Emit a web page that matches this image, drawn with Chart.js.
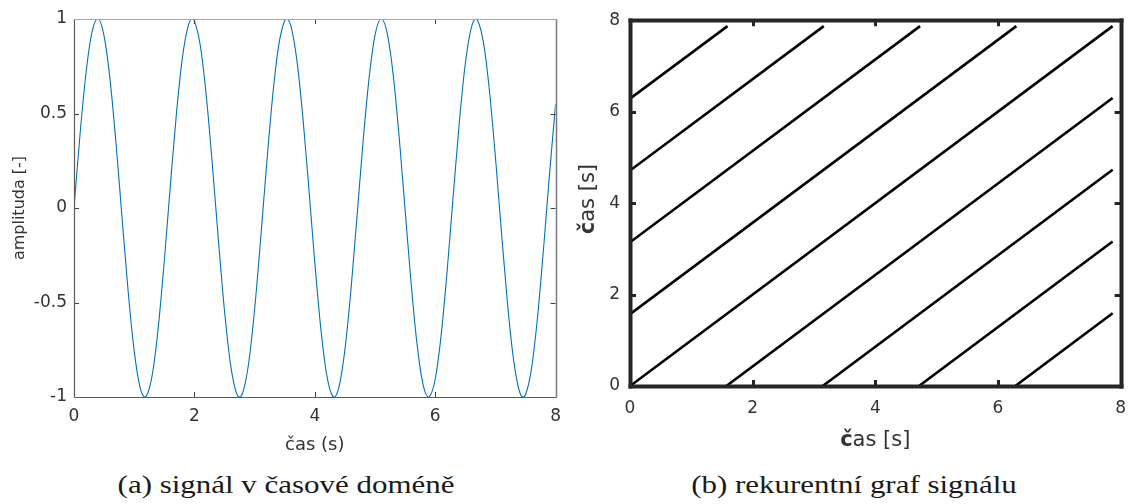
<!DOCTYPE html>
<html>
<head>
<meta charset="utf-8">
<title>signál a rekurentní graf</title>
<script src="https://cdn.jsdelivr.net/npm/chart.js@4.4.0/dist/chart.umd.min.js"></script>
<style>
  html, body { margin: 0; padding: 0; background: #fff; }
  body { width: 1138px; height: 504px; position: relative; overflow: hidden; }
  canvas { position: absolute; top: 0; }
  #signal-chart { left: 0; }
  #recurrence-chart { left: 575px; }
  .caption {
    position: absolute; top: 470px; line-height: 30px;
    font-family: "Liberation Serif", serif; font-size: 26px; color: #1a1a1a;
    white-space: nowrap; transform: translateX(-50%) scaleX(1.19);
  }
</style>
</head>
<body>
<canvas id="signal-chart" width="570" height="470"></canvas>
<canvas id="recurrence-chart" width="563" height="470"></canvas>
<div class="caption" style="left:286px">(a) signál v časové doméně</div>
<div class="caption" style="left:854px">(b) rekurentní graf signálu</div>

<script>
// (a) signal in time domain (incl. the peaks / troughs)
const timeValues = [
  0, 0.1, 0.2, 0.3, 0.393, 0.4, 0.5, 0.6, 0.7, 0.8, 0.9,
  1, 1.1, 1.178, 1.2, 1.3, 1.4, 1.5, 1.6, 1.7, 1.8, 1.9, 1.963,
  2, 2.1, 2.2, 2.3, 2.4, 2.5, 2.6, 2.7, 2.749, 2.8, 2.9,
  3, 3.1, 3.2, 3.3, 3.4, 3.5, 3.534, 3.6, 3.7, 3.8, 3.9,
  4, 4.1, 4.2, 4.3, 4.320, 4.4, 4.5, 4.6, 4.7, 4.8, 4.9,
  5, 5.1, 5.105, 5.2, 5.3, 5.4, 5.5, 5.6, 5.7, 5.8, 5.890, 5.9,
  6, 6.1, 6.2, 6.3, 6.4, 6.5, 6.6, 6.676, 6.7, 6.8, 6.9,
  7, 7.1, 7.2, 7.3, 7.4, 7.461, 7.5, 7.6, 7.7, 7.8, 7.9,
  8
];
const amplitude = [
  0, 0.389, 0.717, 0.932, 1.0, 1.0, 0.909, 0.675, 0.335, -0.058, -0.443,
  -0.757, -0.952, -1.0, -0.996, -0.883, -0.631, -0.279, 0.117, 0.494, 0.794, 0.968, 1.0,
  0.989, 0.855, 0.585, 0.223, -0.174, -0.544, -0.827, -0.981, -1.0, -0.980, -0.824,
  -0.537, -0.166, 0.231, 0.592, 0.860, 0.991, 1.0, 0.966, 0.788, 0.487, 0.108,
  -0.288, -0.638, -0.887, -0.997, -1.0, -0.949, -0.751, -0.435, -0.050, 0.343, 0.682,
  0.913, 1.0, 1.0, 0.929, 0.711, 0.381, -0.009, -0.398, -0.724, -0.936, -1.0, -0.999,
  -0.906, -0.670, -0.327, 0.067, 0.451, 0.763, 0.954, 1.0, 0.995, 0.879, 0.624,
  0.271, -0.125, -0.502, -0.798, -0.971, -1.0, -0.988, -0.850, -0.577, -0.214, 0.183,
  0.551
];
const signalXTicks = [0, 2, 4, 6, 8];
const signalYTicks = [-1, -0.5, 0, 0.5, 1];

// (b) recurrence plot - one diagonal per recurrence lag
const lagStartX = [0, 0, 0, 0, 0, 1.571, 3.142, 4.712, 6.283];
const lagStartY = [0, 1.571, 3.142, 4.712, 6.283, 0, 0, 0, 0];
const lagEndX   = [7.87, 6.30, 4.73, 3.16, 1.59, 7.87, 7.87, 7.87, 7.87];
const lagEndY   = [7.87, 7.87, 7.87, 7.87, 7.87, 6.30, 4.73, 3.16, 1.59];
const recurrenceTicks = [0, 2, 4, 6, 8];
// first letter came out bold in the original figure
const recurrenceTitle = ['č', 'as [s]'];

const SANS = '"DejaVu Sans", sans-serif';

// matlab style frame: box round the plot and ticks pointing inwards
const matlabBox = {
  id: 'matlabBox',
  afterDatasetsDraw(chart, args, opts) {
    const { ctx, chartArea: a, scales: { x, y } } = chart;
    const L = opts.tickLength;
    ctx.save();
    ctx.lineCap = 'butt';
    ctx.strokeStyle = opts.tickColor;
    ctx.lineWidth = opts.tickWidth;
    const seg = (x1, y1, x2, y2) => {
      ctx.beginPath(); ctx.moveTo(x1, y1); ctx.lineTo(x2, y2); ctx.stroke();
    };
    x.ticks.forEach(t => {
      if (t.value <= x.min || t.value >= x.max) return;
      const px = Math.round(x.getPixelForValue(t.value)) + 0.5;
      seg(px, a.bottom, px, a.bottom - L);
      seg(px, a.top, px, a.top + L);
    });
    y.ticks.forEach(t => {
      if (t.value <= y.min || t.value >= y.max) return;
      const py = Math.round(y.getPixelForValue(t.value)) + 0.5;
      seg(a.left, py, a.left + L, py);
      seg(a.right, py, a.right - L, py);
    });
    const s = opts.sides;
    const l = Math.round(a.left) + 0.5, r = Math.round(a.right) + 0.5;
    const tp = Math.round(a.top) + 0.5, b = Math.round(a.bottom) + 0.5;
    const pad = opts.cornerPad || 0;
    ctx.strokeStyle = s.top.color; ctx.lineWidth = s.top.width; seg(l - pad, tp, r + pad, tp);
    ctx.strokeStyle = s.bottom.color; ctx.lineWidth = s.bottom.width; seg(l - pad, b, r + pad, b);
    ctx.strokeStyle = s.left.color; ctx.lineWidth = s.left.width; seg(l, tp - pad, l, b + pad);
    ctx.strokeStyle = s.right.color; ctx.lineWidth = s.right.width; seg(r, tp - pad, r, b + pad);
    ctx.restore();
  }
};

// axis titles with a bold first letter (x below the plot, y rotated on the left)
const splitTitles = {
  id: 'splitTitles',
  afterDraw(chart, args, opts) {
    if (!opts.parts) return;
    const { ctx, chartArea: a } = chart;
    const bold = `bold ${opts.size}px ${SANS}`;
    const normal = `${opts.size}px ${SANS}`;
    const drawAt = (cx, cy, angle) => {
      ctx.save();
      ctx.translate(cx, cy);
      ctx.rotate(angle);
      ctx.font = bold;
      const w1 = ctx.measureText(opts.parts[0]).width;
      ctx.font = normal;
      const w2 = ctx.measureText(opts.parts[1]).width;
      const x0 = -(w1 + w2) / 2;
      ctx.fillStyle = opts.color;
      ctx.textBaseline = 'middle';
      ctx.textAlign = 'left';
      ctx.font = bold;
      ctx.fillText(opts.parts[0], x0, 0);
      ctx.font = normal;
      ctx.fillText(opts.parts[1], x0 + w1, 0);
      ctx.restore();
    };
    drawAt((a.left + a.right) / 2, a.bottom + opts.xOffset, 0);
    drawAt(opts.yX, (a.top + a.bottom) / 2 - 4, -Math.PI / 2);
  }
};

function fixedTicks(values) {
  return function (scale) {
    scale.ticks = values.map(v => ({ value: v }));
  };
}

const plainNumber = v => String(v);

// left chart
new Chart(document.getElementById('signal-chart'), {
  type: 'line',
  data: {
    datasets: [{
      data: timeValues.map((t, i) => ({ x: t, y: amplitude[i] })),
      borderColor: '#0072BD',
      borderWidth: 1.1,
      pointRadius: 0,
      cubicInterpolationMode: 'monotone',
      fill: false
    }]
  },
  options: {
    responsive: false,
    animation: false,
    layout: { padding: { top: 19, right: 12, left: 0, bottom: 0 } },
    plugins: {
      legend: { display: false },
      tooltip: { enabled: false },
      matlabBox: {
        tickLength: 5, tickWidth: 1, tickColor: '#404040',
        sides: {
          top: { color: '#a8a8a8', width: 1 },
          right: { color: '#7a7a7a', width: 1.5 },
          bottom: { color: '#5a5a5a', width: 1.2 },
          left: { color: '#5a5a5a', width: 1.2 }
        }
      }
    },
    scales: {
      x: {
        type: 'linear', min: 0, max: 8,
        afterBuildTicks: fixedTicks(signalXTicks),
        afterFit(scale) { scale.height = 73; },
        grid: { display: false, drawTicks: false },
        border: { display: false },
        ticks: { padding: 9, color: '#333', font: { family: SANS, size: 17 }, callback: plainNumber },
        title: {
          display: true, text: 'čas (s)', color: '#333',
          font: { family: SANS, size: 18 }, padding: { top: 0, bottom: 14 }
        }
      },
      y: {
        type: 'linear', min: -1, max: 1,
        afterBuildTicks: fixedTicks(signalYTicks),
        afterFit(scale) { scale.width = 74; },
        grid: { display: false, drawTicks: false },
        border: { display: false },
        ticks: { padding: 7, color: '#333', font: { family: SANS, size: 17 }, callback: plainNumber },
        title: {
          display: true, text: 'amplituda [-]', color: '#333',
          font: { family: SANS, size: 16 }, padding: { top: 10, bottom: 0 }
        }
      }
    }
  },
  plugins: [matlabBox]
});

// right chart
new Chart(document.getElementById('recurrence-chart'), {
  type: 'scatter',
  data: {
    datasets: lagStartX.map((x0, i) => ({
      data: [{ x: x0, y: lagStartY[i] }, { x: lagEndX[i], y: lagEndY[i] }],
      showLine: true,
      borderColor: '#000',
      borderWidth: 2.6,
      pointRadius: 0
    }))
  },
  options: {
    responsive: false,
    animation: false,
    layout: { padding: { top: 14, right: 16, left: 0, bottom: 0 } },
    plugins: {
      legend: { display: false },
      tooltip: { enabled: false },
      matlabBox: {
        tickLength: 6, tickWidth: 3, tickColor: '#262626', cornerPad: 2,
        sides: {
          top: { color: '#262626', width: 4 },
          right: { color: '#262626', width: 4 },
          bottom: { color: '#262626', width: 4 },
          left: { color: '#262626', width: 4 }
        }
      },
      splitTitles: { parts: recurrenceTitle, size: 21, color: '#333', xOffset: 55, yX: 14 }
    },
    scales: {
      x: {
        type: 'linear', min: 0, max: 8,
        afterBuildTicks: fixedTicks(recurrenceTicks),
        afterFit(scale) { scale.height = 84; },
        grid: { display: false, drawTicks: false },
        border: { display: false },
        ticks: { padding: 12, color: '#333', font: { family: SANS, size: 17 }, callback: plainNumber }
      },
      y: {
        type: 'linear', min: 0, max: 8,
        afterBuildTicks: fixedTicks(recurrenceTicks),
        afterFit(scale) { scale.width = 55; },
        grid: { display: false, drawTicks: false },
        border: { display: false },
        ticks: { padding: 10, color: '#333', font: { family: SANS, size: 17 }, callback: plainNumber }
      }
    }
  },
  plugins: [matlabBox, splitTitles]
});
</script>
</body>
</html>
